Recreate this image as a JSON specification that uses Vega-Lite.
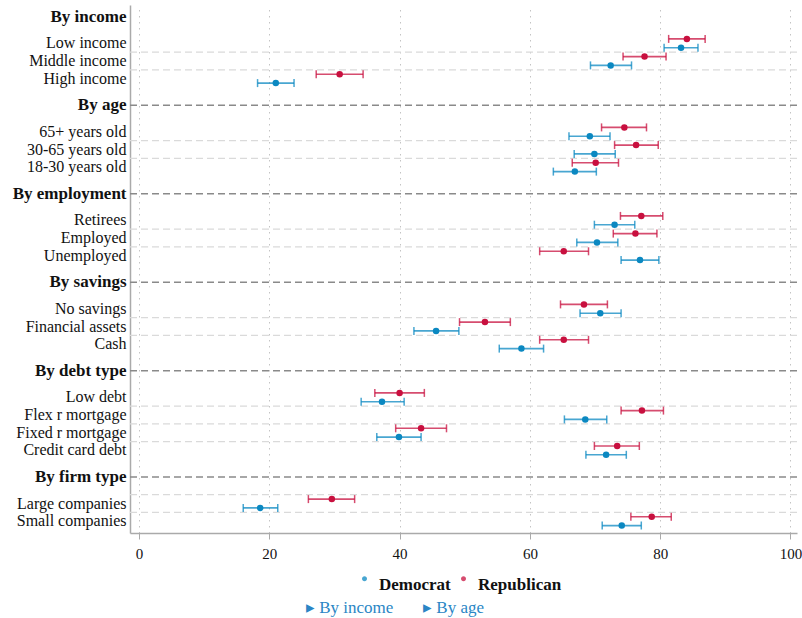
{
  "$schema": "https://vega.github.io/schema/vega-lite/v6.json",
  "width": 667,
  "height": 528,
  "autosize": "none",
  "padding": {"left": 130, "top": 5, "right": 5, "bottom": 85},
  "background": "white",
  "config": {"view": {"stroke": null}, "font": "Liberation Serif"},
  "title": {
    "text": "▸ By income\u00a0\u00a0\u00a0\u00a0\u00a0\u00a0\u00a0▸ By age",
    "orient": "bottom",
    "anchor": "middle",
    "frame": "bounds",
    "font": "Liberation Serif",
    "fontSize": 17,
    "fontWeight": "normal",
    "color": "#2a86c5",
    "offset": 7,
    "dx": -12
  },
  "datasets": {
    "estimates": [
      {"label": "Low income", "party": "Republican", "est": 84.1, "lo": 81.3, "hi": 86.9},
      {"label": "Low income", "party": "Democrat", "est": 83.2, "lo": 80.6, "hi": 85.8},
      {"label": "Middle income", "party": "Republican", "est": 77.6, "lo": 74.3, "hi": 80.9},
      {"label": "Middle income", "party": "Democrat", "est": 72.4, "lo": 69.3, "hi": 75.6},
      {"label": "High income", "party": "Republican", "est": 30.8, "lo": 27.2, "hi": 34.4},
      {"label": "High income", "party": "Democrat", "est": 21.0, "lo": 18.2, "hi": 23.8},
      {"label": "65+ years old", "party": "Republican", "est": 74.5, "lo": 71.0, "hi": 77.9},
      {"label": "65+ years old", "party": "Democrat", "est": 69.2, "lo": 66.0, "hi": 72.3},
      {"label": "30-65 years old", "party": "Republican", "est": 76.3, "lo": 73.0, "hi": 79.7},
      {"label": "30-65 years old", "party": "Democrat", "est": 69.9, "lo": 66.8, "hi": 73.1},
      {"label": "18-30 years old", "party": "Republican", "est": 70.1, "lo": 66.5, "hi": 73.6},
      {"label": "18-30 years old", "party": "Democrat", "est": 66.9, "lo": 63.6, "hi": 70.2},
      {"label": "Retirees", "party": "Republican", "est": 77.1, "lo": 73.9, "hi": 80.4},
      {"label": "Retirees", "party": "Democrat", "est": 73.0, "lo": 69.9, "hi": 76.1},
      {"label": "Employed", "party": "Republican", "est": 76.2, "lo": 72.8, "hi": 79.5},
      {"label": "Employed", "party": "Democrat", "est": 70.3, "lo": 67.2, "hi": 73.5},
      {"label": "Unemployed", "party": "Republican", "est": 65.2, "lo": 61.5, "hi": 69.0},
      {"label": "Unemployed", "party": "Democrat", "est": 76.9, "lo": 74.0, "hi": 79.8},
      {"label": "No savings", "party": "Republican", "est": 68.3, "lo": 64.7, "hi": 71.9},
      {"label": "No savings", "party": "Democrat", "est": 70.8, "lo": 67.7, "hi": 74.0},
      {"label": "Financial assets", "party": "Republican", "est": 53.1, "lo": 49.2, "hi": 57.0},
      {"label": "Financial assets", "party": "Democrat", "est": 45.6, "lo": 42.2, "hi": 49.1},
      {"label": "Cash", "party": "Republican", "est": 65.2, "lo": 61.5, "hi": 69.0},
      {"label": "Cash", "party": "Democrat", "est": 58.7, "lo": 55.3, "hi": 62.1},
      {"label": "Low debt", "party": "Republican", "est": 40.0, "lo": 36.2, "hi": 43.8},
      {"label": "Low debt", "party": "Democrat", "est": 37.3, "lo": 34.1, "hi": 40.7},
      {"label": "Flex r mortgage", "party": "Republican", "est": 77.2, "lo": 74.0, "hi": 80.5},
      {"label": "Flex r mortgage", "party": "Democrat", "est": 68.5, "lo": 65.3, "hi": 71.8},
      {"label": "Fixed r mortgage", "party": "Republican", "est": 43.3, "lo": 39.4, "hi": 47.2},
      {"label": "Fixed r mortgage", "party": "Democrat", "est": 39.9, "lo": 36.5, "hi": 43.3},
      {"label": "Credit card debt", "party": "Republican", "est": 73.4, "lo": 69.9, "hi": 76.8},
      {"label": "Credit card debt", "party": "Democrat", "est": 71.7, "lo": 68.6, "hi": 74.8},
      {"label": "Large companies", "party": "Republican", "est": 29.6, "lo": 26.0, "hi": 33.1},
      {"label": "Large companies", "party": "Democrat", "est": 18.6, "lo": 16.0, "hi": 21.3},
      {"label": "Small companies", "party": "Republican", "est": 78.7, "lo": 75.5, "hi": 81.7},
      {"label": "Small companies", "party": "Democrat", "est": 74.1, "lo": 71.1, "hi": 77.1}
    ],
    "separators": [
      {"label": "~3"}, {"label": "~4"}, {"label": "~9"}, {"label": "~10"},
      {"label": "~15"}, {"label": "~16"}, {"label": "~21"}, {"label": "~22"},
      {"label": "~27"}, {"label": "~28"}, {"label": "~29"}, {"label": "~33"}, {"label": "~34"}
    ],
    "headers": [
      {"label": "By age"}, {"label": "By employment"}, {"label": "By savings"},
      {"label": "By debt type"}, {"label": "By firm type"}
    ]
  },
  "encoding": {
    "y": {
      "field": "label",
      "type": "nominal",
      "scale": {
        "type": "band",
        "paddingInner": 0,
        "paddingOuter": 0.83,
        "domain": [
          "By income", "~1", "~2", "Low income", "~3", "Middle income", "~4", "High income", "~5", "~6",
          "By age", "~7", "~8", "65+ years old", "~9", "30-65 years old", "~10", "18-30 years old", "~11", "~12",
          "By employment", "~13", "~14", "Retirees", "~15", "Employed", "~16", "Unemployed", "~17", "~18",
          "By savings", "~19", "~20", "No savings", "~21", "Financial assets", "~22", "Cash", "~23", "~24",
          "By debt type", "~25", "~26", "Low debt", "~27", "Flex r mortgage", "~28", "Fixed r mortgage", "~29", "Credit card debt", "~30", "~31",
          "By firm type", "~32", "~33", "Large companies", "~34", "Small companies"
        ]
      },
      "axis": {
        "title": null,
        "domainColor": "#aaaaaa",
        "domainWidth": 1.5,
        "ticks": false,
        "grid": false,
        "labelPadding": 4,
        "labelOverlap": false,
        "labelBound": false,
        "labelFont": "Liberation Serif",
        "labelColor": "#111111",
        "labelExpr": "indexof(datum.value, '~') === 0 ? '' : datum.value",
        "labelFontSize": {"condition": {"test": "indexof(datum.value, 'By ') === 0", "value": 17}, "value": 16},
        "labelFontWeight": {"condition": {"test": "indexof(datum.value, 'By ') === 0", "value": "bold"}, "value": "normal"}
      }
    }
  },
  "layer": [
    {
      "data": {"name": "separators"},
      "mark": {"type": "rule", "color": "#dadada", "strokeWidth": 1.2, "strokeDash": [7, 4]},
      "encoding": {}
    },
    {
      "data": {"name": "headers"},
      "mark": {"type": "rule", "color": "#8a8a8a", "strokeWidth": 1.4, "strokeDash": [7, 4]},
      "encoding": {}
    },
    {
      "data": {"name": "estimates"},
      "mark": {"type": "rule", "strokeWidth": 1.6, "opacity": 0.75},
      "encoding": {
        "x": {"field": "lo", "type": "quantitative", "scale": {"domain": [-1.38, 101], "nice": false, "zero": false}},
        "x2": {"field": "hi"},
        "yOffset": {"field": "party", "type": "nominal", "scale": {"type": "point", "domain": ["Republican", "Democrat"], "range": [0, 8.8], "padding": 0}},
        "color": {"field": "party", "type": "nominal", "scale": {"domain": ["Democrat", "Republican"], "range": ["#0b88c1", "#c8103f"]}}
      }
    },
    {
      "data": {"name": "estimates"},
      "mark": {"type": "tick", "orient": "vertical", "size": 8, "thickness": 1.5, "opacity": 0.75},
      "encoding": {
        "x": {"field": "lo", "type": "quantitative"},
        "yOffset": {"field": "party", "type": "nominal"},
        "color": {"field": "party", "type": "nominal"}
      }
    },
    {
      "data": {"name": "estimates"},
      "mark": {"type": "tick", "orient": "vertical", "size": 8, "thickness": 1.5, "opacity": 0.75},
      "encoding": {
        "x": {"field": "hi", "type": "quantitative"},
        "yOffset": {"field": "party", "type": "nominal"},
        "color": {"field": "party", "type": "nominal"}
      }
    },
    {
      "data": {"name": "estimates"},
      "mark": {"type": "point", "filled": true, "size": 42, "opacity": 1},
      "encoding": {
        "x": {
          "field": "est",
          "type": "quantitative",
          "axis": {
            "title": null,
            "values": [0, 20, 40, 60, 80, 100],
            "grid": true,
            "gridDash": [1.5, 4.5],
            "gridColor": "#c4c4c4",
            "gridWidth": 1,
            "domainColor": "#aaaaaa",
            "domainWidth": 1.5,
            "tickColor": "#aaaaaa",
            "tickSize": 6,
            "labelFont": "Liberation Serif",
            "labelFontSize": 15,
            "labelColor": "#111111",
            "labelPadding": 7
          }
        },
        "yOffset": {"field": "party", "type": "nominal"},
        "color": {
          "field": "party",
          "type": "nominal",
          "legend": {
            "title": null,
            "orient": "none",
            "legendX": 226,
            "legendY": 571,
            "direction": "horizontal",
            "labelFont": "Liberation Serif",
            "labelFontSize": 17,
            "labelFontWeight": "bold",
            "labelColor": "#111111",
            "symbolType": "M-1,-2.4a1,1 0 1,0 2,0a1,1 0 1,0 -2,0",
            "symbolSize": 25,
            "symbolStrokeWidth": 0,
            "labelOffset": 6,
            "columnPadding": 4,
            "padding": 0
          }
        }
      }
    }
  ]
}
